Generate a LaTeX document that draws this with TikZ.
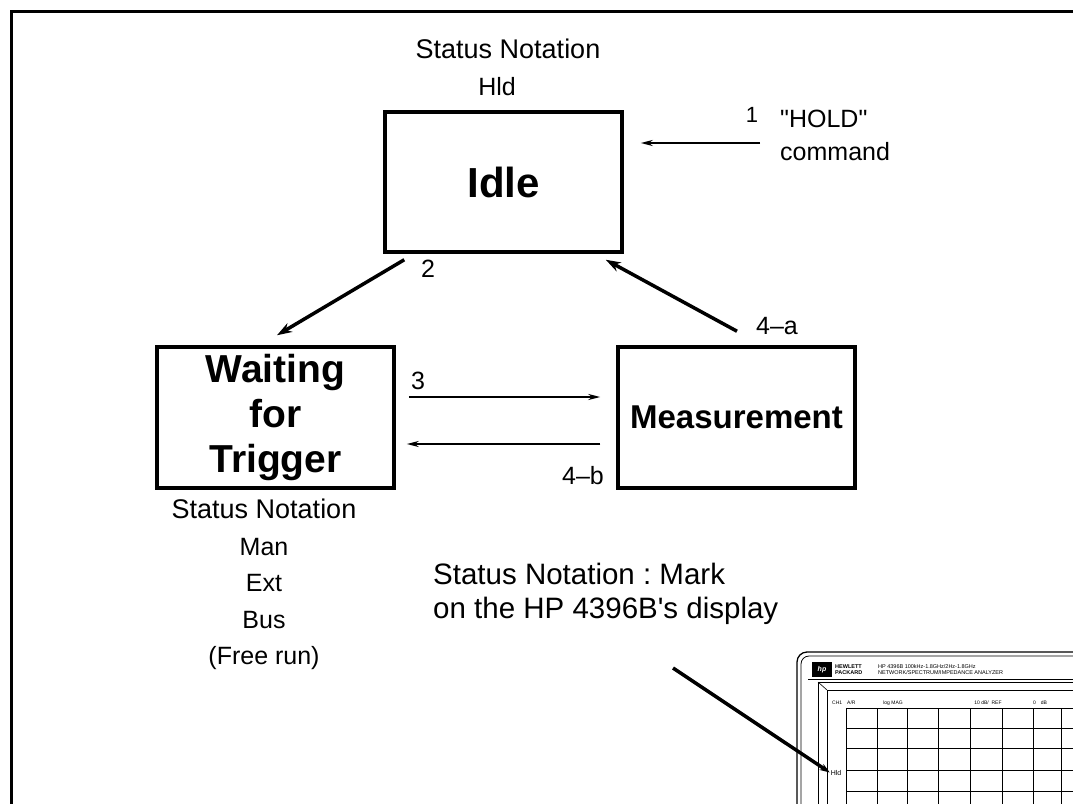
\documentclass[tikz,border=0pt]{standalone}
\usepackage{fontspec}
\setmainfont{Liberation Sans}[Ligatures=TeXOff]
\frenchspacing
\usetikzlibrary{arrows.meta,calc}
\begin{document}
\begin{tikzpicture}[x=1pt,y=-1pt,
  statebox/.style={draw,line width=3.5pt,minimum width=237pt,minimum height=140pt,inner sep=0pt,align=center},
  thinlbl/.style={inner sep=0pt,font=\fontsize{25}{36.5}\selectfont},
  bigarrow/.style={line width=3.5pt,-{Stealth[length=15pt,width=10pt]}},
  smallarrow/.style={line width=2pt,-{Stealth[length=12pt,width=6pt]}},
  tinytxt/.style={inner sep=0pt,font=\fontsize{5}{6}\selectfont},
]
\useasboundingbox (0,0) rectangle (1073,803);
\fill[white] (0,0) rectangle (1073,803);
% frame
\draw[line width=3pt] (11,810) -- (11,11) -- (1080,11);

% state boxes
\node[statebox,font=\bfseries\fontsize{42}{48}\selectfont] (idle) at (503.5,182) {Idle};
\node[statebox,minimum height=141pt,font=\bfseries\fontsize{39}{45}\selectfont] (wait) at (275.5,417.5) {Waiting\\for\\Trigger};
\node[statebox,minimum height=141pt,font=\bfseries\fontsize{33}{40}\selectfont] (meas) at (736.5,417.5) {Measurement};

% status notation labels
\node[thinlbl,anchor=base,font=\fontsize{27}{36}\selectfont] (sn1) at (508,58) {Status Notation};
\node[thinlbl,anchor=base] (hld1) at (497,95) {Hld};
\node[thinlbl,anchor=north,align=center] (sn2) at (264,499) {\fontsize{27}{36.5}\selectfont Status Notation\\Man\\Ext\\Bus\\(Free run)};

% transition 1
\coordinate (c1) at (760,143);
\draw[smallarrow,shorten >=17pt] (c1) -- (idle.east |- c1);
\node[thinlbl,font=\fontsize{22}{26}\selectfont] (l1) at (752,115) {1};
\node[thinlbl,anchor=north west,align=left,font=\fontsize{25}{33}\selectfont] (l1b) at (780,110) {"HOLD"\\command};

% transition 2
\draw[bigarrow] ($(idle.south west)+(21,6)$) -- ($(wait.north)+(1.5,-10)$);
\node[thinlbl] (l2) at (428,269) {2};

% transition 3
\draw[smallarrow] ($(wait.east)+(13,-20.5)$) -- ($(meas.west)+(-16,-20.5)$);
\node[thinlbl] (l3) at (418,381) {3};

% transition 4-a
\draw[bigarrow] ($(meas.north)+(0.5,-14)$) -- ($(idle.south east)+(-18,6)$);
\node[thinlbl] (l4a) at (777,326) {4–a};

% transition 4-b
\draw[smallarrow] ($(meas.west)+(-16,26.5)$) -- ($(wait.east)+(11,26.5)$);
\node[thinlbl] (l4b) at (583,476) {4–b};

% note
\node[inner sep=0pt,anchor=base west,align=left,font=\fontsize{29.5}{34}\selectfont] (note) at (433,618) {Status Notation : Mark\\on the HP 4396B's display};

% display picture
\begin{scope}
\clip (780,640) rectangle (1073,803);
\draw[line width=1.3pt,rounded corners=10pt] (797,652) rectangle (1110,840);
\draw[line width=0.8pt,rounded corners=8pt] (801,656) rectangle (1110,840);
\fill (812,662) rectangle (832,677);
\node[tinytxt,white,font=\bfseries\itshape\fontsize{7}{7}\selectfont] (logo) at (822,669.5) {hp};
\node[tinytxt,anchor=west,align=left,font=\bfseries\fontsize{5.5}{6.5}\selectfont] (hpname) at (835,669.5) {HEWLETT\\PACKARD};
\node[tinytxt,anchor=west,align=left,font=\fontsize{5.5}{6.5}\selectfont] (model) at (878,669.5) {HP 4396B 100kHz-1.8GHz/2Hz-1.8GHz\\NETWORK/SPECTRUM/IMPEDANCE ANALYZER};
\draw[line width=0.8pt] (808,679) -- (1110,679);
\draw[line width=0.8pt] (818,840) -- (818,682) -- (1110,682);
\draw[line width=0.8pt] (827,840) -- (827,690) -- (1110,690);
\draw[line width=0.6pt] (818,682) -- (827,690);
\node[tinytxt,anchor=west] (ch) at (832,703) {CH1\quad A/R};
\node[tinytxt] (lm) at (893,703) {log MAG};
\node[tinytxt] (dbref) at (988,703) {10\ dB/\ \ REF};
\node[tinytxt] (zdb) at (1040,703) {0\quad dB};
\foreach \x in {846,877,907,938,970,1002,1033,1061}
  \draw[line width=0.7pt] (\x,708) -- (\x,840);
\foreach \y in {708,728,748,770,791}
  \draw[line width=0.7pt] (846,\y) -- (1110,\y);
\node[tinytxt,font=\fontsize{7}{7}\selectfont] (dhld) at (836,773) {Hld};
\end{scope}

% pointer to the display
\coordinate (ptr) at (673,668);
\draw[line width=3.5pt,-{Stealth[length=10pt,width=7pt]},shorten >=1pt] (ptr) -- (dhld.west);
\end{tikzpicture}
\end{document}
